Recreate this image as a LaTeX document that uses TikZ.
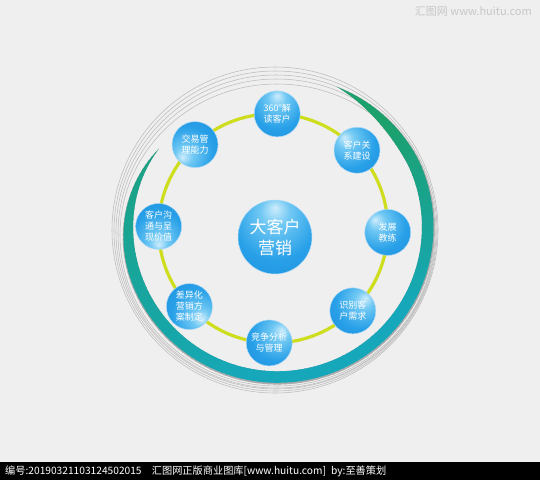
\documentclass[tikz,border=0pt]{standalone}
\usepackage{fontspec}
\newfontfamily\cjk{Noto Sans CJK SC}
\definecolor{bg}{RGB}{239,239,239}
\definecolor{sgreen}{RGB}{28,160,108}
\definecolor{steal}{RGB}{22,168,186}
\definecolor{yring}{RGB}{206,222,30}
\definecolor{ringgray}{RGB}{188,188,188}
\definecolor{shadowgray}{RGB}{172,172,172}
\definecolor{hlA}{RGB}{205,236,252}
\definecolor{hlB}{RGB}{112,200,243}
\definecolor{bmid}{RGB}{40,160,232}
\definecolor{bout}{RGB}{28,140,218}
\definecolor{bedge}{RGB}{22,116,202}
\definecolor{brim}{RGB}{175,218,245}
\pgfdeclareradialshading{bball}{\pgfpoint{0bp}{-20bp}}{color(0bp)=(hlA); color(10bp)=(hlB); color(28bp)=(bmid); color(50bp)=(bout); color(72bp)=(bedge)}
\begin{document}
\begin{tikzpicture}[x=1pt,y=-1pt,
  declare function={
    swro(\s)=156-4*max(0,1-\s/0.15)-14*(max(0,(\s-0.8)/0.2))^2;
    swt(\s)=11.5*sin(90*min(1,\s/0.14))*sin(90*min(1,(1-\s)/0.2));
    swmix(\s)=min(min(100,max(0,(\s-0.08)/0.27*100)),100-75*max(0,\s-0.6)/0.4);
  },
  ball/.style={circle, minimum size=46, inner sep=0, shading=bball, draw=brim, line width=0.5,
    text=white, align=center, font=\cjk\fontsize{9}{11}\selectfont},
  bigball/.style={ball, minimum size=74, font=\cjk\fontsize{17}{21}\selectfont},
  grayring/.style={draw=ringgray, line width=0.55},
]
\useasboundingbox (0,0) rectangle (540,480);
\fill[bg] (0,0) rectangle (540,480);

% thin gray rings
\draw[grayring] (275,230) ellipse [x radius=163, y radius=163];
\draw[grayring] (275.5,231) ellipse [x radius=161.5, y radius=160];
\draw[grayring] (276,232) ellipse [x radius=160, y radius=157];
\draw[grayring] (276.5,233.5) ellipse [x radius=158.5, y radius=154.5];
\draw[grayring] (277,235) ellipse [x radius=157, y radius=151];

% swoosh (shadow then colour)
\begin{scope}[shift={(277.5,226.8)}]
\foreach \k in {0,...,139}{
  \pgfmathsetmacro\sa{\k/140}
  \pgfmathsetmacro\sb{(\k+1)/140}
  \pgfmathsetmacro\ta{-67+280*\sa}
  \pgfmathsetmacro\tb{-67+280*\sb+0.4}
  \pgfmathsetmacro\roa{swro(\sa)+1.8*sin(180*\sa)}
  \pgfmathsetmacro\rob{swro(\sb)+1.8*sin(180*\sb)}
  \pgfmathsetmacro\ria{swro(\sa)-swt(\sa)}
  \pgfmathsetmacro\rib{swro(\sb)-swt(\sb)}
  \fill[shadowgray] (\ta:\roa) -- (\tb:\rob) -- (\tb:\rib) -- (\ta:\ria) -- cycle;
}
\foreach \k in {0,...,139}{
  \pgfmathsetmacro\sa{\k/140}
  \pgfmathsetmacro\sb{(\k+1)/140}
  \pgfmathsetmacro\ta{-67+280*\sa}
  \pgfmathsetmacro\tb{-67+280*\sb+0.4}
  \pgfmathsetmacro\roa{swro(\sa)}
  \pgfmathsetmacro\rob{swro(\sb)}
  \pgfmathsetmacro\ria{\roa-swt(\sa)}
  \pgfmathsetmacro\rib{\rob-swt(\sb)}
  \pgfmathtruncatemacro\m{swmix(\sa)}
  \fill[steal!\m!sgreen] (\ta:\roa) -- (\tb:\rob) -- (\tb:\rib) -- (\ta:\ria) -- cycle;
}
\end{scope}

% yellow ring
\coordinate (rc) at (273.2,228.4);
\draw[yring, line width=3.2] (rc) circle [radius=114.6];

% balls
\node[ball, shading angle=180]  (b1) at ([shift={(rc)}]-88:114.6) {360°解\\读客户};
\node[ball, shading angle=-135] (b2) at ([shift={(rc)}]-43:114.6) {客户关\\系建设};
\node[ball, shading angle=-135] (b3) at ([shift={(rc)}]2:114.6)   {发展\\教练};
\node[ball, shading angle=135]  (b4) at ([shift={(rc)}]46:114.6)  {识别客\\户需求};
\node[ball, shading angle=135]  (b5) at ([shift={(rc)}]92:114.6)  {竞争分析\\与管理};
\node[ball, shading angle=45]   (b6) at ([shift={(rc)}]137:114.6) {差异化\\营销方\\案制定};
\node[ball, shading angle=0]    (b7) at ([shift={(rc)}]181:114.6) {客户沟\\通与呈\\现价值};
\node[ball, shading angle=-45]  (b8) at ([shift={(rc)}]227:114.6) {交易管\\理能力};
\node[bigball, shading angle=180] (center) at (275,237) {大客户\\营销};

% watermark and footer
\node[anchor=east, inner sep=0, text=black!22, font=\cjk\fontsize{11}{12}\selectfont] (wm) at (532,11) {汇图网 www.huitu.com};
\fill[black] (0,462) rectangle (540,480);
\node[anchor=west, inner sep=0, text=white, font=\cjk\fontsize{10.2}{11}\selectfont] (foot) at (5,471.5)
  {编号:20190321103124502015\quad 汇图网正版商业图库[www.huitu.com]\enspace by:至善策划};
\end{tikzpicture}
\end{document}
